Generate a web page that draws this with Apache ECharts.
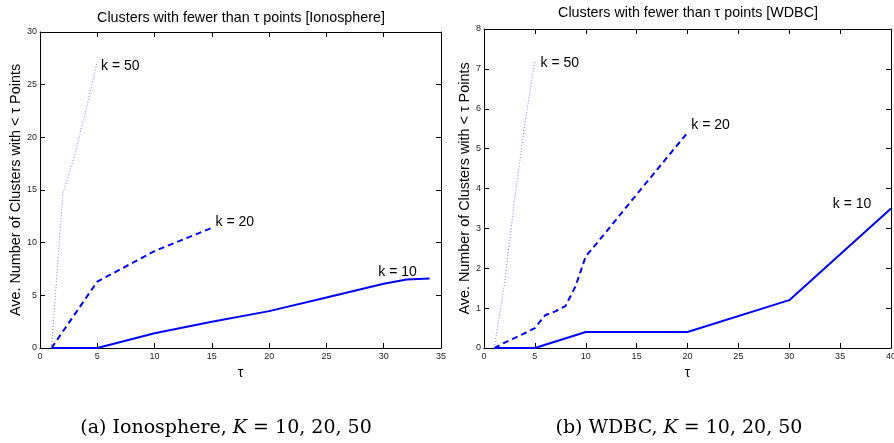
<!DOCTYPE html>
<html>
<head>
<meta charset="utf-8">
<script src="https://cdn.jsdelivr.net/npm/echarts@6/dist/echarts.min.js"></script>
<style>
html,body{margin:0;padding:0;background:#fff;}
#chart{width:894px;height:443px;}
</style>
</head>
<body>
<div id="chart"></div>
<script>
// ---- Ionosphere panel ----
const ionoTauK10 = [1, 5, 10, 15, 20, 25, 30, 32, 34];
const ionoK10    = [0, 0, 1.4, 2.5, 3.5, 4.8, 6.1, 6.5, 6.6];
const ionoTauK20 = [1, 5, 10, 15];
const ionoK20    = [0, 6.3, 9.2, 11.4];
const ionoTauK50 = [1, 2, 3, 4, 5];
const ionoK50    = [0, 14.7, 18.2, 22.5, 27.2];
const ionoXTicks = [0, 35, 5];   // min, max, interval
const ionoYTicks = [0, 30, 5];

// ---- WDBC panel ----
const wdbcTauK10 = [1, 5, 10, 20, 30, 40];
const wdbcK10    = [0, 0, 0.4, 0.4, 1.2, 3.5];
const wdbcTauK20 = [1, 2, 3, 4, 5, 6, 7, 8, 9, 10, 11, 15, 20];
const wdbcK20    = [0, 0.13, 0.25, 0.37, 0.5, 0.82, 0.92, 1.05, 1.55, 2.3, 2.6, 3.85, 5.4];
const wdbcTauK50 = [1, 2, 3, 4, 5];
const wdbcK50    = [0, 1.6, 3.7, 5.6, 7.2];
const wdbcXTicks = [0, 40, 5];
const wdbcYTicks = [0, 8, 1];

const seriesNames = ['k = 10', 'k = 20', 'k = 50'];
const titles = ['Clusters with fewer than \u03c4 points [Ionosphere]', 'Clusters with fewer than \u03c4 points [WDBC]'];
const yName = 'Ave. Number of Clusters with < \u03c4 Points';
const xName = '\u03c4';

function zip(a, b) { return a.map((v, i) => [v, b[i]]); }
function last(a) { return a[a.length - 1]; }

const sans = 'Liberation Sans, Arial, sans-serif';
const serif = 'DejaVu Serif, serif';
const tickLabel = { fontSize: 9, color: '#222', fontFamily: sans };

function xAx(grid, t, pos, withLabel) {
  return {
    type: 'value', gridIndex: grid, position: pos, min: t[0], max: t[1], interval: t[2],
    axisLine: { show: true, onZero: false, lineStyle: { color: '#000', width: 1 } },
    axisTick: { show: true, inside: true, length: 5, lineStyle: { color: '#000' } },
    axisLabel: Object.assign({ show: withLabel, margin: 4 }, tickLabel),
    splitLine: { show: false },
    name: withLabel ? xName : '', nameLocation: 'middle', nameGap: 10,
    nameTextStyle: { fontSize: 14, color: '#000', fontFamily: sans }
  };
}
function yAx(grid, t, pos, withLabel, gap) {
  return {
    type: 'value', gridIndex: grid, position: pos, min: t[0], max: t[1], interval: t[2],
    axisLine: { show: true, onZero: false, lineStyle: { color: '#000', width: 1 } },
    axisTick: { show: true, inside: true, length: 5, lineStyle: { color: '#000' } },
    axisLabel: Object.assign({ show: withLabel, margin: 3 }, tickLabel),
    splitLine: { show: false },
    name: withLabel ? yName : '', nameLocation: 'middle', nameGap: gap, nameRotate: 90,
    nameTextStyle: { fontSize: 14.4, color: '#000', fontFamily: sans }
  };
}

const styles = [
  { color: '#0000ff', width: 2, type: 'solid' },
  { color: '#0000ff', width: 2, type: [6, 4] },
  { color: '#7c7cff', width: 1, type: [1, 2] }
];

function mkSeries(xi, tau, vals, k, off) {
  const d = zip(tau, vals);
  return {
    type: 'line', xAxisIndex: xi, yAxisIndex: xi, data: d, symbol: 'none',
    name: seriesNames[k], lineStyle: styles[k], silent: true, animation: false,
    markPoint: {
      symbol: 'circle', symbolSize: 0, silent: true, animation: false,
      data: [{ coord: last(d) }],
      label: { show: true, position: 'inside', offset: off, formatter: seriesNames[k],
               fontSize: 14, color: '#000', fontFamily: sans }
    }
  };
}

const caption = (tag, name) => ({
  type: 'text',
  style: {
    text: tag + ' ' + name + ', {i|K} = 10, 20, 50',
    rich: { i: { fontStyle: 'italic', fontSize: 19, fontFamily: serif, fill: '#000' } },
    fontSize: 19, fontFamily: serif, fill: '#000',
    textAlign: 'center', textVerticalAlign: 'middle'
  }
});

const chart = echarts.init(document.getElementById('chart'), null, { renderer: 'canvas' });
chart.setOption({
  backgroundColor: '#fff',
  animation: false,
  grid: [
    { left: 40, top: 32, width: 401, height: 316, outerBoundsMode: 'none', containLabel: false },
    { left: 484, top: 29, width: 407, height: 319, outerBoundsMode: 'none', containLabel: false }
  ],
  xAxis: [
    xAx(0, ionoXTicks, 'bottom', true), xAx(0, ionoXTicks, 'top', false),
    xAx(1, wdbcXTicks, 'bottom', true), xAx(1, wdbcXTicks, 'top', false)
  ],
  yAxis: [
    yAx(0, ionoYTicks, 'left', true, 13), yAx(0, ionoYTicks, 'right', false, 0),
    yAx(1, wdbcYTicks, 'left', true, 6), yAx(1, wdbcYTicks, 'right', false, 0)
  ],
  series: [
    mkSeries(0, ionoTauK10, ionoK10, 0, [-32, -6]),
    mkSeries(0, ionoTauK20, ionoK20, 1, [23, -6]),
    mkSeries(0, ionoTauK50, ionoK50, 2, [23, 5]),
    mkSeries(2, wdbcTauK10, wdbcK10, 0, [-39, -4]),
    mkSeries(2, wdbcTauK20, wdbcK20, 1, [23, -8]),
    mkSeries(2, wdbcTauK50, wdbcK50, 2, [25, 2])
  ],
  graphic: [
    { type: 'text', x: 241, y: 18, style: { text: titles[0], fontSize: 14.3, fontFamily: sans, fill: '#000', textAlign: 'center', textVerticalAlign: 'middle' } },
    { type: 'text', x: 688, y: 13, style: { text: titles[1], fontSize: 14.3, fontFamily: sans, fill: '#000', textAlign: 'center', textVerticalAlign: 'middle' } },
    Object.assign(caption('(a)', 'Ionosphere'), { x: 226, y: 428 }),
    Object.assign(caption('(b)', 'WDBC'), { x: 679, y: 428 })
  ]
});
</script>
</body>
</html>
